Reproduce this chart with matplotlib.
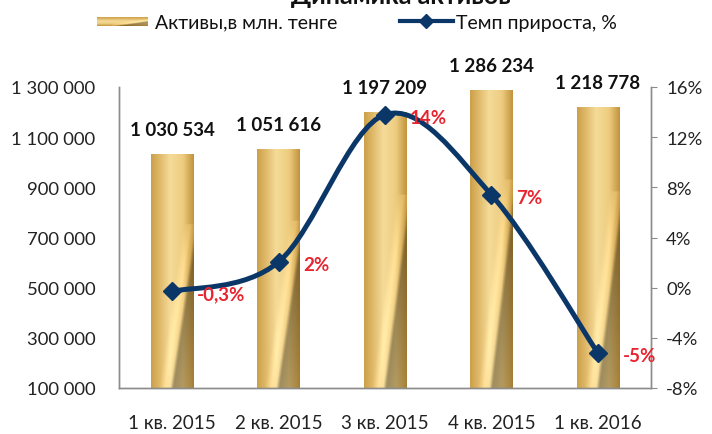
import matplotlib.pyplot as plt
import numpy as np
from matplotlib.path import Path
from matplotlib.patches import PathPatch
from matplotlib.lines import Line2D
from matplotlib.ticker import FuncFormatter

plt.rcParams['font.family'] = ['Lato', 'DejaVu Sans']

# data
quarters = ['1 кв. 2015', '2 кв. 2015', '3 кв. 2015', '4 кв. 2015', '1 кв. 2016']
assets = [1030534, 1051616, 1197209, 1286234, 1218778]
growth = [-0.3, 2.05, 13.8, 7.4, -5.2]
growth_labels = ['-0,3%', '2%', '14%', '7%', '-5%']
asset_ticks = [100000, 300000, 500000, 700000, 900000, 1100000, 1300000]
growth_ticks = [-8, -4, 0, 4, 8, 12, 16]

navy = '#0b3768'
red = '#e8242f'
gray = '#8c8c8c'
W, H = 712, 435


def spaced(v):
    return f'{int(v):,}'.replace(',', ' ')


def gold_texture(h=200, w=60):
    # cylinder-like gold shading with a dark diagonal fold in the lower part
    u = np.linspace(0, 1, w)[None, :]
    v = np.linspace(1, 0, h)[:, None]
    stops = [0.0, 0.15, 0.45, 0.75, 1.0]
    cols = np.array([[0.80, 0.63, 0.30], [0.86, 0.70, 0.38], [0.96, 0.86, 0.60],
                     [0.93, 0.80, 0.50], [0.76, 0.58, 0.24]])
    img = np.zeros((h, w, 3))
    for c in range(3):
        img[:, :, c] = np.interp(np.repeat(u, h, 0), stops, cols[:, c])
    edge = 0.45 + 0.55 * (v / 0.65)
    dark = np.clip((u - edge) / 0.08, 0, 1) * (v < 0.7)
    shade = 1 - 0.38 * dark * np.clip(1 - (u - edge) * 1.2, 0.4, 1)
    light = np.clip(1 - np.abs(u - edge + 0.12) / 0.15, 0, 1) * (v < 0.7) * 0.08
    img = np.clip(img * shade[..., None] + light[..., None], 0, 1)
    return img


fig = plt.figure(figsize=(W / 100, H / 100), dpi=100)
ax = fig.add_axes([119 / W, 1 - 389 / H, 532 / W, 301 / H])
ax2 = ax.twinx()

x = np.arange(len(quarters))
bw = 0.4
tex = gold_texture()
for xi, val in zip(x, assets):
    ax.imshow(tex, extent=[xi - bw / 2, xi + bw / 2, asset_ticks[0], val],
              aspect='auto', zorder=1, interpolation='bilinear')
    ax.annotate(spaced(val), (xi, val), xytext=(0, 12), textcoords='offset points',
                ha='center', va='bottom', fontsize=13.5, fontweight='bold', color='#111111')

ax.set_xlim(-0.5, len(quarters) - 0.5)
ax.set_ylim(asset_ticks[0], asset_ticks[-1])
ax.set_yticks(asset_ticks)
ax.yaxis.set_major_formatter(FuncFormatter(lambda v, p: spaced(v)))
ax.set_xticks(x)
ax.set_xticklabels(quarters)
ax.tick_params(axis='x', length=0, pad=19, labelsize=13.5, colors='#222222')
ax.tick_params(axis='y', length=0, pad=17, labelsize=13.3, colors='#222222')

# smoothed line (Excel-style bezier through the data points)
pts = np.column_stack([x, growth]).astype(float)
verts = [pts[0]]
codes = [Path.MOVETO]
for i in range(len(pts) - 1):
    p0 = pts[max(i - 1, 0)]
    p1 = pts[i]
    p2 = pts[i + 1]
    p3 = pts[min(i + 2, len(pts) - 1)]
    verts += [p1 + (p2 - p0) / 6, p2 - (p3 - p1) / 6, p2]
    codes += [Path.CURVE4] * 3
ax2.add_patch(PathPatch(Path(verts, codes), fill=False, edgecolor=navy, lw=3.6,
                        zorder=3, capstyle='round', joinstyle='round'))
ax2.plot(x, growth, linestyle='none', marker='D', ms=9, color=navy, zorder=4)
for xi, g, lab in zip(x, growth, growth_labels):
    ax2.annotate(lab, (xi, g), xytext=(18, -2), textcoords='offset points',
                 ha='left', va='center', fontsize=13.5, fontweight='bold', color=red)

ax2.set_ylim(growth_ticks[0], growth_ticks[-1])
ax2.set_yticks(growth_ticks)
ax2.yaxis.set_major_formatter(FuncFormatter(lambda v, p: f'{int(v)}%'))
ax2.tick_params(axis='y', length=4, width=0.8, color=gray, pad=7,
                labelsize=13.3, labelcolor='#222222')

for a in (ax, ax2):
    a.spines['top'].set_visible(False)
    for s in ('left', 'right', 'bottom'):
        a.spines[s].set_color(gray)
        a.spines[s].set_linewidth(1.0)

# title, mostly cut off at the top edge as in the original
fig.text(401 / W, 1 - 4 / H, 'Динамика активов', ha='center', va='baseline',
         fontsize=18, fontweight='bold', color='#111111')

# legend drawn by hand to match the original placement
leg_img = fig.add_axes([97 / W, 1 - 27 / H, 51 / W, 9 / H])
leg_img.imshow(np.rot90(gold_texture(60, 30))[::-1], aspect='auto', interpolation='bilinear')
leg_img.axis('off')
fig.text(155 / W, 1 - 23 / H, 'Активы,в млн. тенге', ha='left', va='center',
         fontsize=14, color='#111111')
fig.add_artist(Line2D([400 / W, 453 / W], [1 - 22 / H] * 2, color=navy, lw=3,
                      transform=fig.transFigure))
fig.add_artist(Line2D([426 / W], [1 - 22 / H], marker='D', ms=7, color=navy,
                      linestyle='none', transform=fig.transFigure))
fig.text(456 / W, 1 - 23 / H, 'Темп прироста, %', ha='left', va='center',
         fontsize=14, color='#111111')

fig.savefig('out.png', dpi=100)
